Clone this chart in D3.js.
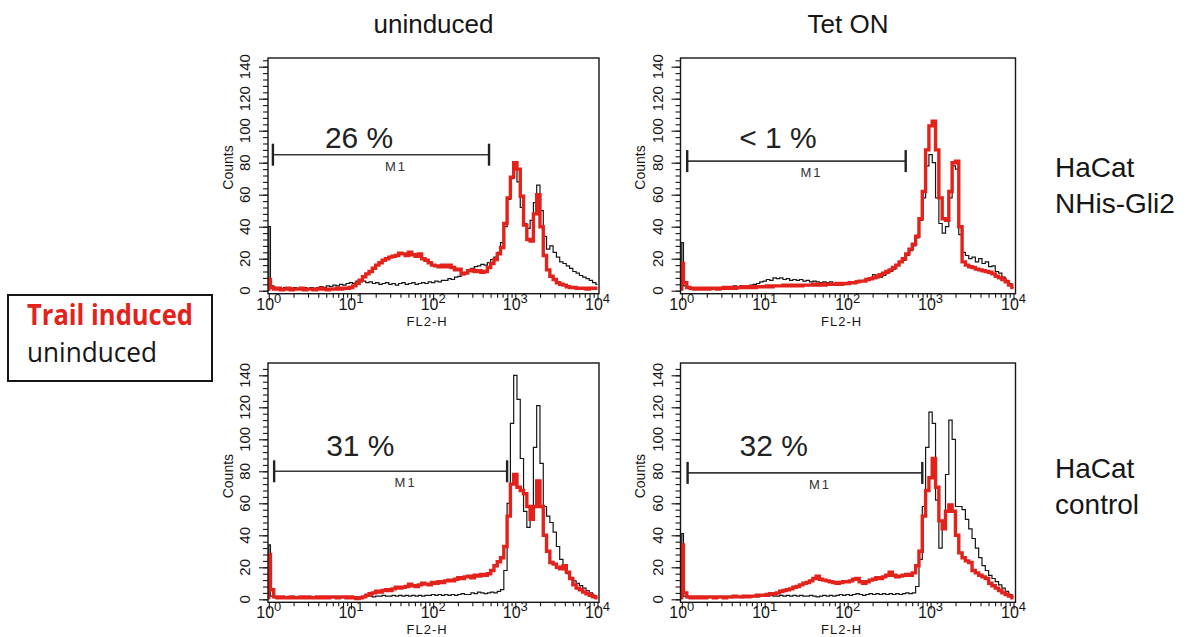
<!DOCTYPE html>
<html>
<head>
<meta charset="utf-8">
<script src="https://cdn.jsdelivr.net/npm/d3@7"></script>
<style>
  html, body { margin: 0; padding: 0; background: #fff; }
  svg { display: block; font-family: "Liberation Sans", Arial, sans-serif; }
</style>
</head>
<body>
<svg id="chart" width="1190" height="637"></svg>
<script>
// histogram channel grid, in decades (bin centres, 10^0 .. 10^4)
const binLog = d3.range(0, 4.0001, 0.04);

const colTitles = ["uninduced", "Tet ON"];
const rowLabels = [["HaCat", "NHis-Gli2"], ["HaCat", "control"]];
const legendItems = ["Trail induced", "uninduced"];
const yTicks = [0, 20, 40, 60, 80, 100, 120, 140];
const xDecades = [0, 1, 2, 3, 4];

// M1 gate per panel (top-left, top-right, bottom-left, bottom-right)
const pctLabels = ["26 %", "< 1 %", "31 %", "32 %"];
const gateLo = [0.05, 0.065, 0.065, 0.07];
const gateHi = [2.68, 2.70, 2.90, 2.90];
const gateCount = [85, 81, 80, 79];

// counts per channel
const trailA = [7,2,1,1.5,0.5,1,1.5,0.5,1,1,
  1.5,0.5,1,1,0.5,1,1.5,1,0.5,1,
  1,1.5,1,1.5,1.5,2,3,4.6,6.5,8.7,
  10.5,12,14,16,17.5,19,20,21,21.5,22,
  23.5,23,22,24,22.5,21.5,23,20,19,17.5,
  16,15.5,15,16,15,16,14.5,13,13.5,10.5,
  11,12.5,13,12,12.5,11.5,12,14.5,17,19.5,
  23,27,42,58,71,80,76,59,41,32,
  31,48,60,40,22,13,9,7,5,4,
  3.5,2.5,2,2,1.5,1.5,1.5,1,1.5,1.5,
  1.5];
const unindA = [40,3,1,1.5,1,2,1,1.5,2,1,
  1.5,2,1.5,2,1.5,2,2.5,2,3,2.5,
  3.5,3,4,3.5,4.5,5,4.5,6,5.5,6,
  5,5.5,4.5,5,4,4.5,5,4,4.5,3.5,
  4.5,5,4,4.5,5,4,4.5,5,4.5,5.5,
  5,6,5.5,6.5,6.5,7.5,7,8.5,9,10,
  11.5,12.5,14,15,15.5,16.5,16,17.5,19.5,21,
  24,30,40,57,70,77,68,52,42,39,
  44,55,66,50,34,26,28,24,21,18,
  17,15.5,14,12,11,9.5,8.5,7.5,6.5,5,
  4];
const trailB = [17,5,2,1.5,1,1.5,1,1.5,1,1.5,
  1.5,1,1.5,2,1.5,2,1.5,2,2,2.5,
  2,2.5,2,2.5,2.5,2.5,3,2.5,3,3,
  3,3.5,3,3.5,3,3.5,3,3.5,3.5,3.5,
  4,3.5,4,3.5,4,4,4,4.5,4,4.5,
  4.5,5,5,5.5,6,6,7,7.5,8,9,
  10,11,12,13,14.5,16,18,20,23,26,
  29,34,45,62,88,103,106,88,58,45,
  44,62,80,81,40,18,16,15,14.5,13.5,
  13,12.5,12,11.5,10.5,9,8,7,5.5,3.5,
  2];
const unindB = [30,3,1.5,1,1.5,1,2,1.5,1,1.5,
  2,1.5,2,2.5,2,2.5,3,2.5,3,2.5,
  3,3.5,4,4.5,5.5,6,7,6.5,8,7.5,
  8,7,7.5,6.5,7,6.5,7,6,6.5,5.5,
  6,5.5,5,5.5,5,5.5,4.5,5,5,4.5,
  5,5.5,5,6,6,6.5,7,8,10,8,
  8.5,9.5,11,12,13.5,16,18,19,22,25,
  28,33,44,58,78,85,80,58,42,36,
  40,58,78,76,35,24,22,20,21,18,
  20,17,18,15,15.5,12,11,8.5,6.5,4.5,
  2];
const trailC = [28,6,1.5,1,1.5,1,1,1.5,1,1,
  1.5,1,1.5,1,1,1.5,1,1.5,1,1.5,
  1.5,1,1.5,1.5,1,1.5,1,0.5,1,1.5,
  2.5,3.5,4,5,4.5,5.5,6,5.5,6.5,7.5,
  7,7.5,8,9.5,8.5,8,9,10,9.5,9,
  10.5,10,11,10.5,11.5,12,11.5,12.5,13.5,13,
  14,14.5,13.5,15,14.5,15.5,15,16,18,21,
  23.5,26,33,52,72,78,70,68,66,58,
  50,58,74,58,40,30,23,22,20,19,
  21,17,13,9,7,6,4.5,3.5,2.5,1.5,
  1];
const unindC = [34,2,1,0.5,1,0.5,1,0.5,1,0.5,
  1,1,0.5,1,1,0.5,1,1,1,1,
  1,1,1,1,1,1,1.5,1,1.5,1.5,
  2,2,1.5,2,2,2.5,2,2,2.5,2,
  2.5,2,2.5,2,2.5,2,2.5,2,2.5,2.5,
  3,2.5,3,2.5,3,2.5,3,2.5,3,3.5,
  3,3,4,3.5,4.5,4,3.5,4,4.5,4,
  5,6,18,60,110,140,125,88,55,45,
  52,95,121,85,58,52,48,42,33,25,
  19,16,13,11.5,10,8.5,7,5.5,4,2.5,
  1];
const trailD = [34,4,1.5,1,1.5,1,1.5,1,1.5,1.5,
  1,1.5,1.5,1,1.5,1.5,2,1.5,1.5,2,
  1.5,2,2,2.5,2.5,2.5,3,3.5,3.5,4,
  5,5.5,6,6.5,7.5,8,9,10,10.5,11.5,
  13,14.5,12.5,12,11.5,11,10.5,10,10.5,11,
  11,11.5,12.5,13,11,10,11,12,12.5,13.5,
  13,14,15,17,15,14,14.5,15,15.5,15,
  16.5,21,30,52,68,76,88,70,49,44,
  55,59,55,40,29,26,24,23,18,16.5,
  15,14,13,10,8.5,7,5.5,4,3,2,
  1];
const unindD = [41,2,1,0.5,1,1,0.5,1,1,1.5,
  1,1,1.5,1,1.5,1,1.5,1.5,1,1.5,
  2,1.5,2,1.5,2,2,2,2.5,2,2,
  2.5,2,2.5,2,2.5,2,2.5,2,2,2.5,
  2,1.5,2,2.5,2,2.5,2,2.5,3,2.5,
  3,2.5,3,3.5,3,2.5,3,3.5,3,3.5,
  3,3.5,3,3.5,3,3.5,3,3.5,4,3.5,
  4,8,25,58,95,117,110,62,32,45,
  78,112,100,58,58,56,50,44,38,32,
  26,21,18,15,13,11,9,7,5,3,
  1.5];

const panels = [
  { row: 0, col: 0, trail: trailA, unind: unindA },
  { row: 0, col: 1, trail: trailB, unind: unindB },
  { row: 1, col: 0, trail: trailC, unind: unindC },
  { row: 1, col: 1, trail: trailD, unind: unindD }
];

const RED = "#e3231b";
const INK = "#161616";
const svg = d3.select("#chart");

// layout
const rows = [{ zero: 290.7, top: 58 }, { zero: 599.3, top: 363 }];
const cols = [
  { left: 268, right: 599, x0: 268.8, x1: 597.5 },
  { left: 680.5, right: 1015.5, x0: 681.8, x1: 1013.5 }
];

function drawPanel(p, i) {
  const r = rows[p.row], c = cols[p.col];
  const bottom = r.zero + 3;
  const x = d3.scaleLog().domain([1, 1e4]).range([c.x0, c.x1]);
  const y = d3.scaleLinear().domain([0, 140]).range([r.zero, r.zero - 224]);
  const g = svg.append("g");

  g.append("clipPath").attr("id", "clip" + i)
    .append("rect")
    .attr("x", c.left).attr("y", r.top)
    .attr("width", c.right - c.left).attr("height", bottom - r.top);

  // x axis ticks (log minor + decades)
  const minor = x.ticks().filter(v => Math.abs(Math.log10(v) % 1) > 1e-6);
  const xa = g.append("g").attr("transform", `translate(0,${bottom})`);
  xa.append("g").call(d3.axisBottom(x).tickValues(minor).tickSize(4).tickFormat(""));
  xa.append("g").call(d3.axisBottom(x).tickValues(xDecades.map(d => Math.pow(10, d))).tickSize(7).tickFormat(""));

  // y axis ticks
  const ya = g.append("g").attr("transform", `translate(${c.left},0)`);
  ya.append("g").call(d3.axisLeft(y).tickValues(d3.range(0, 145, 4)).tickSize(5).tickFormat(""));
  ya.append("g").call(d3.axisLeft(y).tickValues(yTicks).tickSize(9).tickFormat(""));
  g.selectAll(".domain").remove();
  g.selectAll(".tick line").attr("stroke", INK).attr("stroke-width", 1.1);

  // y labels, rotated
  g.selectAll("text.yl").data(yTicks).join("text")
    .attr("class", "yl")
    .attr("transform", d => `translate(${c.left - 23},${y(d)}) rotate(-90)`)
    .attr("dy", "0.35em")
    .attr("text-anchor", "middle")
    .style("font-family", "'Liberation Sans Narrow', 'Liberation Sans', Arial")
    .style("font-size", "15px")
    .attr("fill", INK)
    .text(d => d);

  g.append("text")
    .attr("transform", `translate(${c.left - 40},${y(77)}) rotate(-90)`)
    .attr("dy", "0.35em")
    .attr("text-anchor", "middle")
    .style("font-family", "'Liberation Sans Narrow', 'Liberation Sans', Arial")
    .style("font-size", "14px")
    .attr("fill", INK)
    .text("Counts");

  // x labels 10^n
  const xl = g.selectAll("text.xl").data(xDecades).join("text")
    .attr("class", "xl")
    .attr("x", d => x(Math.pow(10, d)))
    .attr("y", bottom + 16)
    .attr("text-anchor", "middle")
    .attr("fill", INK)
    .style("font-size", "16px");
  xl.append("tspan").text("10");
  xl.append("tspan").attr("dy", -7).style("font-size", "13px").text(d => d);

  g.append("text")
    .attr("x", (c.x0 + c.x1) / 2 - 6)
    .attr("y", bottom + 32)
    .attr("text-anchor", "middle")
    .attr("fill", INK)
    .style("font-size", "13px")
    .style("letter-spacing", "1px")
    .text("FL2-H");

  // histograms, steps centred on each channel
  const line = d3.line()
    .x(d => x(Math.pow(10, d[0])))
    .y(d => y(d[1]))
    .curve(d3.curveStep);
  const pts = v => [[0, 0]].concat(binLog.map((b, j) => [b, v[j]]));
  const plot = g.append("g").attr("clip-path", `url(#clip${i})`);
  plot.append("path").attr("d", line(pts(p.unind)))
    .attr("fill", "none").attr("stroke", INK).attr("stroke-width", 1.2);
  plot.append("path").attr("d", line(pts(p.trail)))
    .attr("fill", "none").attr("stroke", RED).attr("stroke-width", 3.4);

  // frame
  g.append("rect")
    .attr("x", c.left).attr("y", r.top)
    .attr("width", c.right - c.left).attr("height", bottom - r.top)
    .attr("fill", "none").attr("stroke", INK).attr("stroke-width", 1.4);

  // M1 gate
  const gx0 = x(Math.pow(10, gateLo[i])), gx1 = x(Math.pow(10, gateHi[i]));
  const gy = y(gateCount[i]);
  g.append("line").attr("x1", gx0).attr("x2", gx1).attr("y1", gy).attr("y2", gy)
    .attr("stroke", "#3a3a3a").attr("stroke-width", 1.6);
  g.selectAll("line.cap").data([gx0, gx1]).join("line")
    .attr("class", "cap")
    .attr("x1", d => d).attr("x2", d => d)
    .attr("y1", gy - 11).attr("y2", gy + 11)
    .attr("stroke", "#222").attr("stroke-width", 2.4);
  g.append("text")
    .attr("x", (gx0 + gx1) / 2 + 15).attr("y", gy + 16)
    .attr("text-anchor", "middle")
    .attr("fill", "#333")
    .style("font-size", "13px")
    .style("letter-spacing", "2px")
    .text("M1");
  g.append("text")
    .attr("x", gx0 + 52).attr("y", y(89.5))
    .attr("fill", "#222")
    .style("font-size", "30px")
    .text(pctLabels[i]);
}

panels.forEach(drawPanel);

// column titles
svg.selectAll("text.ct").data(colTitles).join("text")
  .attr("class", "ct")
  .attr("x", (d, k) => k === 0 ? 433.5 : 848)
  .attr("y", 33)
  .attr("text-anchor", "middle")
  .attr("fill", INK)
  .style("font-size", "26px")
  .text(d => d);

// row labels
rowLabels.forEach((lab, k) => {
  const base = k === 0 ? 177 : 478;
  svg.selectAll("text.rl" + k).data(lab).join("text")
    .attr("class", "rl" + k)
    .attr("x", 1055)
    .attr("y", (d, j) => base + j * 36)
    .attr("fill", INK)
    .style("font-size", "28px")
    .text(d => d);
});

// legend
const lg = svg.append("g");
lg.append("rect").attr("x", 8).attr("y", 295).attr("width", 204).attr("height", 86)
  .attr("fill", "#fff").attr("stroke", INK).attr("stroke-width", 2);
lg.selectAll("text").data(legendItems).join("text")
  .attr("x", 27)
  .attr("y", (d, k) => k === 0 ? 325 : 362)
  .attr("fill", (d, k) => k === 0 ? RED : INK)
  .attr("textLength", (d, k) => k === 0 ? 166 : 130)
  .attr("lengthAdjust", "spacingAndGlyphs")
  .style("font-family", "'Open Sans', sans-serif")
  .style("font-weight", (d, k) => k === 0 ? 700 : 400)
  .style("font-size", "28px")
  .text(d => d);
</script>
</body>
</html>
